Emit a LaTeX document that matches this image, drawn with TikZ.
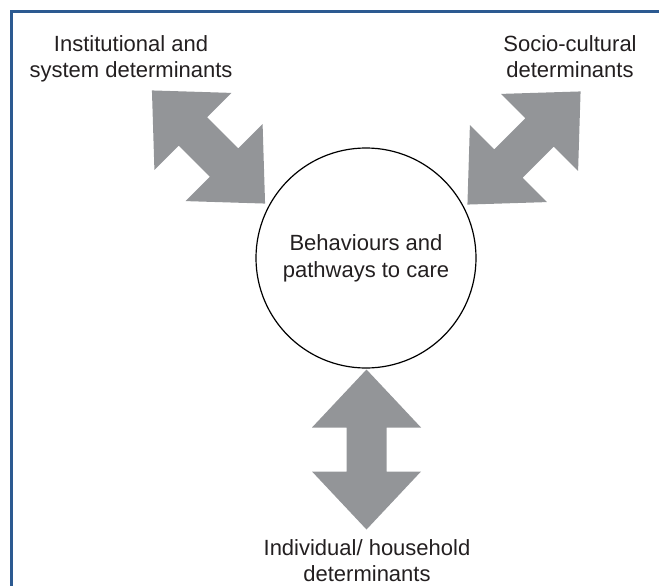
\documentclass[tikz,border=0pt]{standalone}
\usepackage{fontspec}
\setmainfont{Liberation Sans}
\usepackage{xcolor}

\definecolor{framecol}{RGB}{44,90,145}
\definecolor{arrowgray}{RGB}{147,149,152}
\definecolor{textcol}{RGB}{35,31,32}

\tikzset{
    dblarrow/.pic={
        \fill[arrowgray] (-80,0) -- (-22,54.5) -- (-22,20) -- (22,20) -- (22,54.5)
            -- (80,0) -- (22,-54.5) -- (22,-20) -- (-22,-20) -- (-22,-54.5) -- cycle;
    },
    determinant/.style={align=center, inner sep=0pt, anchor=north, text=textcol,
        font=\fontsize{22}{26}\selectfont}
}

\begin{document}
\begin{tikzpicture}[x=1pt, y=-1pt]
    % Fix the size of the page
    \useasboundingbox (0,0) rectangle (659,586);

    % Draw the frame on the left and on top
    \draw[framecol, line width=3pt] (11.5,586) -- (11.5,11.5) -- (659,11.5);

    % Draw the circle in the middle
    \node[circle, draw, line width=1.2pt, minimum size=220pt, align=center,
        text=textcol, font=\fontsize{22}{27}\selectfont] (care) at (366,258)
        {Behaviours and\\pathways to care};

    % Draw the three double arrows
    \pic[rotate=-45] at (208.5,147) {dblarrow};
    \pic[rotate=45] at (524,148) {dblarrow};
    \pic[rotate=90] at (366.5,449.5) {dblarrow};

    % Add the labels of the determinants
    \node[determinant] (inst) at (131,35) {Institutional and\\system determinants};
    \node[determinant] (socio) at (570,35) {Socio-cultural\\determinants};
    \node[determinant] (indiv) at (367,539) {Individual/ household\\determinants};
\end{tikzpicture}
\end{document}
